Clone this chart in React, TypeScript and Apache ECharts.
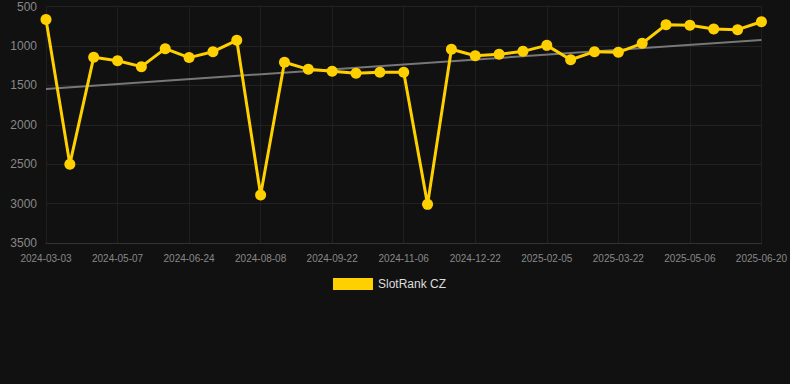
import React, { useEffect, useRef } from "react";
import * as echarts from "echarts";

const dates = [
  "2024-03-03", "2024-03-25", "2024-04-16", "2024-05-07", "2024-05-23", "2024-06-08",
  "2024-06-24", "2024-07-09", "2024-07-24", "2024-08-08", "2024-08-23", "2024-09-07",
  "2024-09-22", "2024-10-07", "2024-10-22", "2024-11-06", "2024-11-21", "2024-12-07",
  "2024-12-22", "2025-01-06", "2025-01-21", "2025-02-05", "2025-02-20", "2025-03-07",
  "2025-03-22", "2025-04-06", "2025-04-21", "2025-05-06", "2025-05-21", "2025-06-05",
  "2025-06-20",
];

const rankValues = [
  665, 2500, 1145, 1188, 1263, 1035, 1148, 1073, 929, 2890, 1208, 1297, 1322, 1347,
  1335, 1335, 3010, 1043, 1124, 1107, 1069, 993, 1175, 1073, 1081, 967, 731, 739,
  786, 794, 693,
];

const trendStart = 1545;
const trendEnd = 925;

const yTicks = { min: 500, max: 3500, interval: 500 };

export default function App() {
  const ref = useRef<HTMLDivElement>(null);

  useEffect(() => {
    if (!ref.current) return;
    const chart = echarts.init(ref.current, undefined, { renderer: "svg" });
    const trendData = dates.map((_, i) =>
      i === 0 ? trendStart : i === dates.length - 1 ? trendEnd : null
    );
    const font = "Arial, 'Liberation Sans', sans-serif";
    chart.setOption({
      animation: false,
      backgroundColor: "#111111",
      textStyle: { fontFamily: font },
      grid: { left: 46, right: 28, top: 6.5, bottom: 141, containLabel: false },
      legend: {
        top: 273,
        left: 328,
        data: [{ name: "SlotRank CZ", icon: "rect" }],
        itemWidth: 40,
        itemHeight: 12,
        itemGap: 10,
        textStyle: { color: "#dddddd", fontSize: 12, fontFamily: font },
      },
      xAxis: {
        type: "category",
        data: dates,
        boundaryGap: false,
        axisLine: { show: true, lineStyle: { color: "#333333" } },
        axisTick: { show: false },
        axisLabel: {
          interval: 2,
          color: "#888888",
          fontSize: 10,
          fontFamily: font,
          margin: 10,
        },
        splitLine: { show: true, interval: 2, lineStyle: { color: "#1f1f1f" } },
      },
      yAxis: {
        type: "value",
        inverse: true,
        min: yTicks.min,
        max: yTicks.max,
        interval: yTicks.interval,
        axisLine: { show: false },
        axisTick: { show: false },
        axisLabel: {
          color: "#888888",
          fontSize: 12,
          fontFamily: font,
          margin: 9,
          formatter: (v: number) => String(v),
        },
        splitLine: { show: true, lineStyle: { color: "#222222" } },
      },
      series: [
        {
          name: "Trend",
          type: "line",
          data: trendData,
          connectNulls: true,
          symbol: "none",
          lineStyle: { color: "#777777", width: 2 },
          z: 1,
          silent: true,
        },
        {
          name: "SlotRank CZ",
          type: "line",
          data: rankValues,
          symbol: "circle",
          symbolSize: 11,
          itemStyle: { color: "#ffd000" },
          lineStyle: { color: "#ffd000", width: 3 },
          z: 2,
        },
      ],
    });
    return () => chart.dispose();
  }, []);

  return (
    <div
      ref={ref}
      style={{ position: "fixed", left: 0, top: 0, width: 790, height: 384 }}
    />
  );
}
